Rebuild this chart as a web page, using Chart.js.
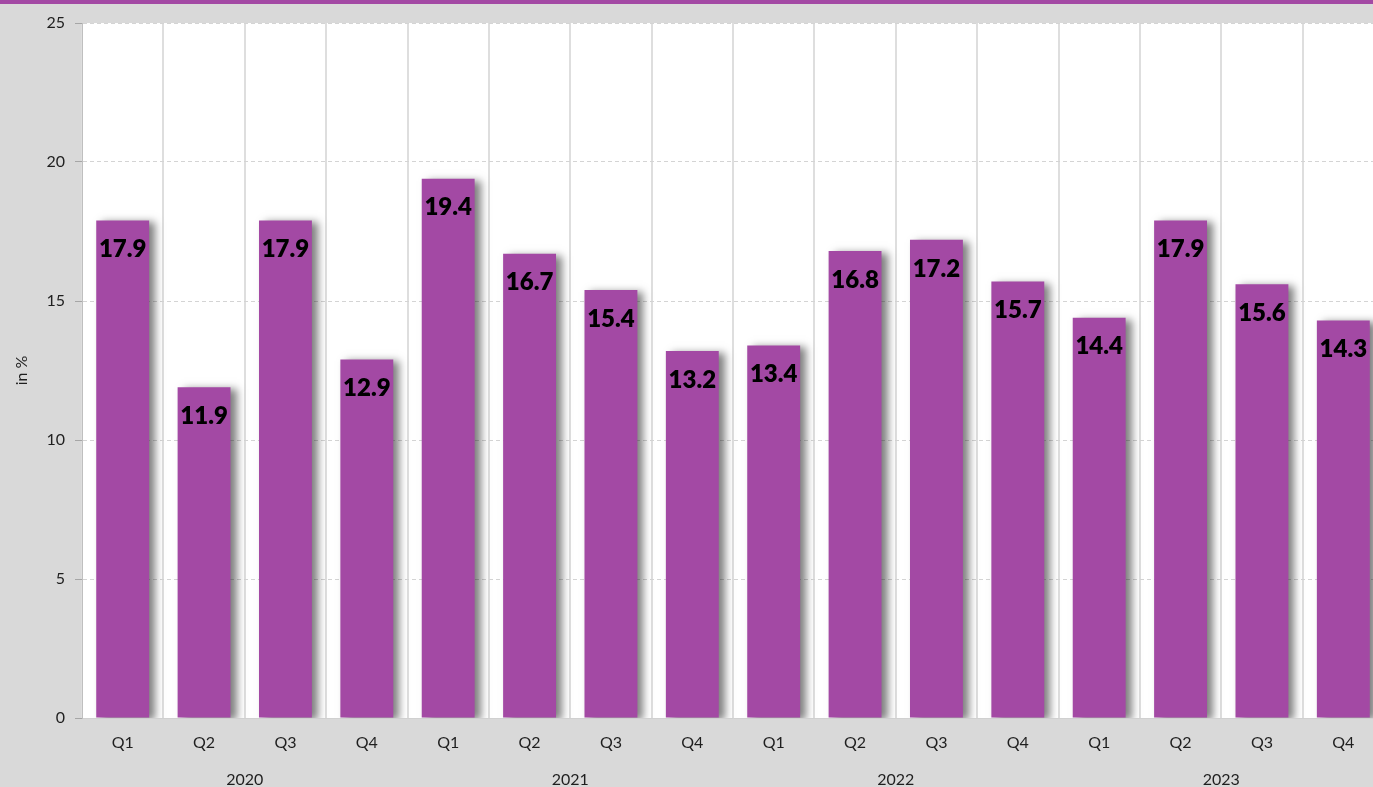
<!DOCTYPE html>
<html>
<head>
<meta charset="utf-8">
<title>Quarterly share</title>
<script src="https://cdn.jsdelivr.net/npm/chart.js@4.4.0/dist/chart.umd.min.js"></script>
<style>
html, body { margin: 0; padding: 0; overflow: hidden; background: #d9d9d9; }
#wrap { position: absolute; left: 0; top: 0; width: 1384px; height: 792px; }
</style>
</head>
<body>
<div id="wrap"><canvas id="shareChart" width="1384" height="792"></canvas></div>
<script>
// Data
const quarterLabels = ['Q1', 'Q2', 'Q3', 'Q4', 'Q1', 'Q2', 'Q3', 'Q4',
                       'Q1', 'Q2', 'Q3', 'Q4', 'Q1', 'Q2', 'Q3', 'Q4'];
const yearLabels = ['2020', '2021', '2022', '2023'];
const shareValues = [17.9, 11.9, 17.9, 12.9, 19.4, 16.7, 15.4, 13.2,
                     13.4, 16.8, 17.2, 15.7, 14.4, 17.9, 15.6, 14.3];
const yTickValues = [0, 5, 10, 15, 20, 25];

// Colours
const BAR_COLOR = '#a349a4';
const PAGE_BG = '#d9d9d9';
const TEXT_COLOR = '#1f1f1f';
const FONT_FAMILY = 'Lato, "Open Sans", sans-serif';

// Gray page, purple strip at the top and a white plot area
const backgroundPlugin = {
    id: 'background',
    beforeDraw(chart) {
        const { ctx, chartArea } = chart;
        ctx.save();
        ctx.fillStyle = PAGE_BG;
        ctx.fillRect(0, 0, chart.width, chart.height);
        ctx.fillStyle = BAR_COLOR;
        ctx.fillRect(0, 0, chart.width, 4);
        ctx.fillStyle = '#ffffff';
        ctx.fillRect(chartArea.left, chartArea.top,
                     chartArea.right - chartArea.left, chartArea.bottom - chartArea.top);
        ctx.restore();
    }
};

// Soft shadow to the lower right of each bar
const shadowPlugin = {
    id: 'barShadow',
    beforeDatasetDraw(chart) {
        const ctx = chart.ctx;
        ctx.save();
        ctx.shadowColor = 'rgba(0, 0, 0, 0.5)';
        ctx.shadowBlur = 8;
        ctx.shadowOffsetX = 6;
        ctx.shadowOffsetY = 2;
    },
    afterDatasetDraw(chart) {
        chart.ctx.restore();
    }
};

// Bold value labels just inside the top of each bar
const valueLabelPlugin = {
    id: 'valueLabels',
    afterDatasetsDraw(chart) {
        const ctx = chart.ctx;
        const meta = chart.getDatasetMeta(0);
        ctx.save();
        ctx.font = '800 24px ' + FONT_FAMILY;
        ctx.fillStyle = '#000000';
        ctx.textAlign = 'center';
        ctx.textBaseline = 'middle';
        meta.data.forEach((bar, i) => {
            ctx.fillText(shareValues[i].toFixed(1), bar.x, bar.y + 29);
        });
        ctx.restore();
    }
};

const tickFont = { family: FONT_FAMILY, size: 16 };

const ctx = document.getElementById('shareChart').getContext('2d');
const shareChart = new Chart(ctx, {
    type: 'bar',
    data: {
        labels: quarterLabels,
        datasets: [{
            data: shareValues,
            backgroundColor: BAR_COLOR,
            borderWidth: 0,
            categoryPercentage: 1,
            barPercentage: 0.65
        }]
    },
    options: {
        responsive: false,
        animation: false,
        layout: { padding: { top: 23, right: 0, bottom: 0, left: 0 } },
        plugins: {
            legend: { display: false },
            tooltip: { enabled: false }
        },
        scales: {
            x: {
                weight: 0,
                offset: true,
                grid: {
                    display: true,
                    offset: true,
                    color: '#dedede',
                    lineWidth: 2,
                    drawTicks: false
                },
                border: { color: '#d0d0d0', width: 1 },
                ticks: { font: tickFont, color: TEXT_COLOR, padding: 15, maxRotation: 0 },
                afterFit(scale) { scale.height = 34; }
            },
            x2: {
                type: 'category',
                position: 'bottom',
                weight: 1,
                labels: yearLabels,
                offset: true,
                grid: { display: false, drawTicks: false },
                border: { display: false },
                ticks: { font: tickFont, color: TEXT_COLOR, padding: 18, maxRotation: 0 },
                afterFit(scale) { scale.height = 40; }
            },
            y: {
                min: 0,
                max: 25,
                afterBuildTicks(scale) {
                    scale.ticks = yTickValues.map(v => ({ value: v }));
                },
                grid: {
                    color: '#d4d4d4',
                    lineWidth: 1,
                    tickLength: 7,
                    tickColor: '#a6a6a6',
                    tickBorderDash: []
                },
                border: { color: '#bfbfbf', width: 1, dash: [4, 3] },
                ticks: { font: tickFont, color: TEXT_COLOR, padding: 10 },
                title: {
                    display: true,
                    text: 'in %',
                    font: tickFont,
                    color: TEXT_COLOR,
                    padding: { top: 12, bottom: 0 }
                },
                afterFit(scale) { scale.width = 82; }
            }
        }
    },
    plugins: [backgroundPlugin, shadowPlugin, valueLabelPlugin]
});
</script>
</body>
</html>
